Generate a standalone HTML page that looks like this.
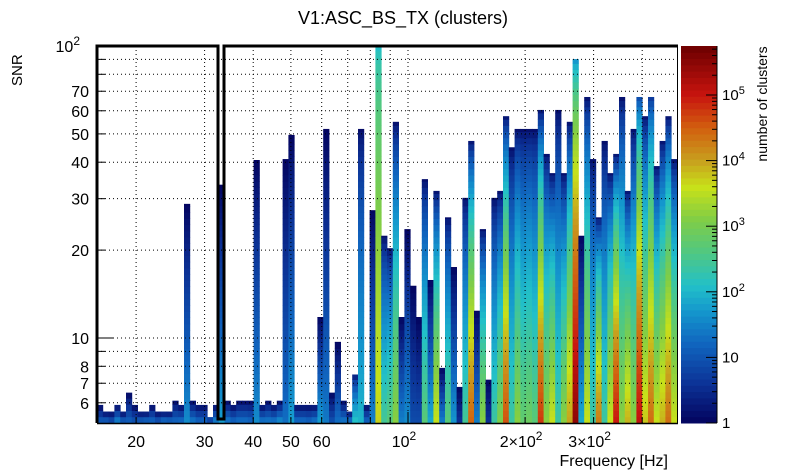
<!DOCTYPE html>
<html><head><meta charset="utf-8"><style>
html,body{margin:0;padding:0;background:#fff;}
svg{display:block;font-family:"Liberation Sans",sans-serif;}
</style></head><body>
<svg id="chart" width="805" height="472" viewBox="0 0 805 472" xmlns="http://www.w3.org/2000/svg">
<rect x="0" y="0" width="805" height="472" fill="#fff"/>
<text x="403" y="24" font-size="18" text-anchor="middle">V1:ASC_BS_TX (clusters)</text>
<g id="cells"></g>
<g id="grid"></g>
<g id="axes"></g>
<path d="M97,423 V46 H218 V419 H224 V46 H678" fill="none" stroke="#000" stroke-width="3"/>
<g id="cbar"></g>
<text x="0" y="0" font-size="15" transform="translate(22,86) rotate(-90)">SNR</text>
<text x="668" y="466" font-size="16" text-anchor="end">Frequency [Hz]</text>
<text x="0" y="0" font-size="14" text-anchor="middle" transform="translate(767,104) rotate(-90)">number of clusters</text>
</svg>
<script>
const snrTop = [
5.9,5.6,5.6,5.9,5.6,6.5,5.9,5.6,5.6,5.9,
5.6,5.6,5.6,6.1,5.9,28.8,6.1,5.9,5.9,5.36,
5.9,33.5,6.1,5.9,6.1,6.1,6.1,40.7,5.9,6.1,
5.9,6.1,41,49.6,5.9,5.9,5.9,5.9,11.8,52,
6.5,9.7,6.1,5.6,7.5,52,5.9,27.4,100,22.4,
20.3,55,11.8,23.6,15.1,11.8,35,15.8,31.9,7.9,
25.9,17.5,6.8,30.2,47.3,12.4,23.6,7.2,30.2,31.9,
57.5,45,52,52,52,52,60.4,42.7,36.7,60.4,
36.7,55,90.2,22.4,66.9,41,25.9,47.3,36.7,42.7,
66.9,31.9,52,66.9,57.5,66.9,38.8,47.3,57.5,41];
const countBottom = [
15,20,12,40,20,15,12,20,25,20,
15,30,25,20,25,40,30,20,20,30,
40,60,30,20,25,25,20,40,30,30,
30,50,20,60,25,25,20,30,60,25,
10,20,30,40,150,100,20,30,5000,300,
500,1500,30,40,8,8,500,80,4000,30,
500,50,4,300,30000,30,1500,4,250,1200,
40000,250,1500,600,800,500,60000,1500,4000,250,
1500,10000,300000,80,4000,250,20000,250,4000,100000,
1500,8000,1500,120000,6000,25000,4000,8000,25000,4000];
const countTop = [
1,1,1,1,1,1,1,1,1,1,
1,1,1,1,1,1,1,1,1,1,
1,1,1,1,1,1,1,1,1,1,
1,1,1,1,1,1,1,1,1,1,
1,1,1,1,1,1,1,1,100,1,
1,1,1,1,1,1,1,1,1,1,
1,1,1,1,1,1,1,1,1,1,
1,1,1,1,1,1,1,1,1,1,
1,1,30,1,1,1,1,1,1,1,
1,1,1,5,1,3,1,1,1,1];
const xTickLabels = ["20","30","40","50","60"];
const xTickValues = [20,30,40,50,60];
const yTickValues = [6,7,8,10,20,30,40,50,60,70];
const cbarDecades = [0,1,2,3,4,5];

const NS="http://www.w3.org/2000/svg";
const X0=97,X1=677,YT=46,YB=423;
const xS=f=>408+389*Math.log10(f/100);
const yS=s=>338-292*Math.log10(s/10);
const fMin=Math.pow(10,2+(X0-408)/389), fMax=Math.pow(10,2+(X1-408)/389);
const sMin=Math.pow(10,1+(338-YB)/292);
const cMaxLog=(YB-YT)/65.6;
const stops=[[0,[3,3,94]],[0.6,[12,50,150]],[1.2,[16,100,190]],[1.7,[20,150,205]],[2.1,[34,192,200]],[2.6,[80,200,130]],[3.1,[128,205,70]],[3.6,[200,225,25]],[4.0,[200,160,30]],[4.5,[210,95,15]],[5.0,[200,20,15]],[5.73,[110,0,0]]];
function col(c){const l=Math.max(0,Math.min(5.73,Math.log10(Math.max(c,1))));
 for(let i=1;i<stops.length;i++){if(l<=stops[i][0]){const a=stops[i-1],b=stops[i],t=(l-a[0])/(b[0]-a[0]);
 return 'rgb('+a[1].map((v,k)=>Math.round(v+(b[1][k]-v)*t)).join(',')+')';}}return 'rgb(110,0,0)';}
function mk(tag,attrs,parent){const e=document.createElementNS(NS,tag);for(const k in attrs)e.setAttribute(k,attrs[k]);parent.appendChild(e);return e;}

const cells=document.getElementById('cells');
const nb=snrTop.length, lstep=(Math.log10(fMax)-Math.log10(fMin))/nb, rstep=0.02123;
for(let i=0;i<nb;i++){
 const xa=xS(Math.pow(10,Math.log10(fMin)+i*lstep)), xb=xS(Math.pow(10,Math.log10(fMin)+(i+1)*lstep));
 const topL=Math.log10(snrTop[i]), baseL=Math.log10(sMin);
 const ex=countBottom[i]>=100?0.55:0.85;
 for(let r=0;;r++){
  const lo=baseL+r*rstep; if(lo>=topL-1e-6)break;
  const hi=Math.min(topL,lo+rstep);
  const h=((lo+hi)/2-baseL)/(topL-baseL);
  const lc=Math.log10(countTop[i])+(Math.log10(countBottom[i])-Math.log10(countTop[i]))*Math.pow(1-h,ex);
  const ya=Math.max(YT,yS(Math.pow(10,hi))), yb=yS(Math.pow(10,lo));
  if(yb<=YT)break;
  const rc=mk('rect',{x:xa.toFixed(2),y:ya.toFixed(2),width:(xb-xa+0.4).toFixed(2),height:(yb-ya+0.4).toFixed(2),fill:col(Math.pow(10,lc))},cells);
  
  
 }
}
const grid=document.getElementById('grid');
[20,30,40,50,60,70,80,90,200,300,400].forEach(f=>{const l=mk('line',{x1:xS(f),x2:xS(f),y1:YT,y2:YB,stroke:'#000','stroke-width':1,'stroke-dasharray':'1,3'},grid);
 });
{const l=mk('line',{x1:xS(100),x2:xS(100),y1:YT,y2:YB,stroke:'#000','stroke-width':1,'stroke-dasharray':'1,3'},grid);}
[6,7,8,9,10,20,30,40,50,60,70,80,90].forEach(s=>{const l=mk('line',{x1:X0,x2:X1,y1:yS(s),y2:yS(s),stroke:'#000','stroke-width':1,'stroke-dasharray':'1,3'},grid);
 });
const axes=document.getElementById('axes');
mk('line',{x1:X0,x2:X1+1,y1:YB+0.5,y2:YB+0.5,stroke:'#000','stroke-width':1.5},axes);
mk('line',{x1:X1+0.5,x2:X1+0.5,y1:YT,y2:YB,stroke:'#000','stroke-width':1},axes);
[20,30,40,50,60,70,80,90,200,300,400].forEach(f=>mk('line',{x1:xS(f),x2:xS(f),y1:YB,y2:YB-6,stroke:'#000'},axes));
mk('line',{x1:xS(100),x2:xS(100),y1:YB,y2:YB-11,stroke:'#000'},axes);
[6,7,8,9,20,30,40,50,60,70,80,90].forEach(s=>mk('line',{x1:X0,x2:X0+8,y1:yS(s),y2:yS(s),stroke:'#000'},axes));
mk('line',{x1:X0,x2:X0+16,y1:yS(10),y2:yS(10),stroke:'#000'},axes);
xTickValues.forEach((v,k)=>{const t=mk('text',{x:xS(v),y:447,'font-size':16,'text-anchor':'middle'},axes);t.textContent=xTickLabels[k];
 });
[[100,'10','2'],[200,'2×10','2'],[300,'3×10','2']].forEach(d=>{const t=mk('text',{x:xS(d[0])-4,y:447,'font-size':16,'text-anchor':'middle'},axes);
 
 t.appendChild(document.createTextNode(d[1]));const sp=mk('tspan',{dy:-7,'font-size':12},t);sp.textContent=d[2];});
yTickValues.forEach(v=>{const t=mk('text',{x:89,y:yS(v)+6,'font-size':16,'text-anchor':'end'},axes);t.textContent=String(v);
 });
{const t=mk('text',{x:80,y:yS(100)+6,'font-size':16,'text-anchor':'end'},axes);t.textContent='10';
 const sp=mk('tspan',{dy:-7,'font-size':12},t);sp.textContent='2';}
const cb=document.getElementById('cbar');
const CX=681,CW=36;
for(let k=0;k<60;k++){const l0=cMaxLog*k/60,l1=cMaxLog*(k+1)/60;const ya=YB-65.6*l1,yb=YB-65.6*l0;
 const r=mk('rect',{x:CX,y:ya.toFixed(2),width:CW,height:(yb-ya+0.5).toFixed(2),fill:col(Math.pow(10,(l0+l1)/2))},cb);
 }
mk('line',{x1:CX+CW,x2:CX+CW,y1:YT,y2:YB,stroke:'#000'},cb);
for(let d=0;d<6;d++){for(let m=1;m<10;m++){const l=d+Math.log10(m);if(l>cMaxLog)break;const y=YB-65.6*l;
 mk('line',{x1:CX+CW,x2:CX+CW-(m==1?11:5),y1:y,y2:y,stroke:'#000'},cb);}}
cbarDecades.forEach(d=>{const y=YB-65.6*d+5;const t=mk('text',{x:722,y:y,'font-size':15},cb);
 
 if(d==0)t.textContent='1';else if(d==1)t.textContent='10';else{t.appendChild(document.createTextNode('10'));const sp=mk('tspan',{dy:-6,'font-size':11},t);sp.textContent=String(d);}});
</script>
</body></html>
